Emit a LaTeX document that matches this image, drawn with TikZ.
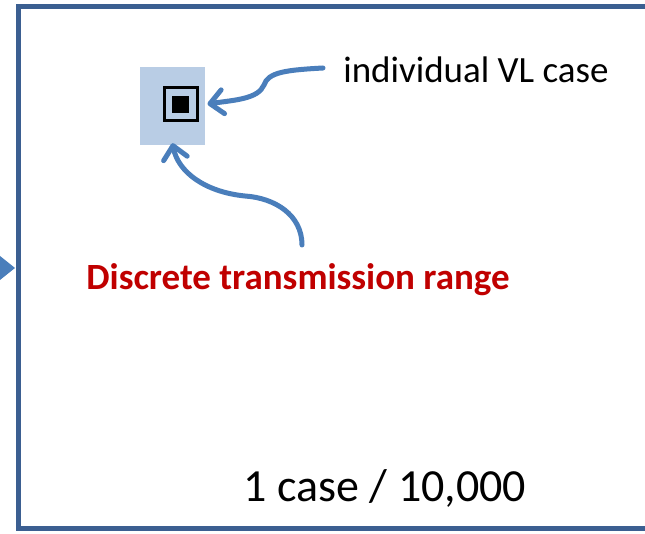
\documentclass[tikz,border=0pt]{standalone}
\usepackage{fontspec}
\setmainfont{Carlito}
\usetikzlibrary{arrows.meta}
\definecolor{frameblue}{HTML}{3B5F91}
\definecolor{arrowblue}{HTML}{4A7EBB}
\definecolor{lightblue}{HTML}{B9CDE5}
\definecolor{darkred}{HTML}{C00000}
\tikzset{
  curvearrow/.style={draw=arrowblue, line width=5pt, line cap=round, -{Straight Barb[length=13pt,width=24pt,line width=5pt,round]}},
  txt/.style={inner sep=0pt, anchor=center}
}
\begin{document}
\begin{tikzpicture}[x=1pt,y=-1pt]
\fill[white] (0,0) rectangle (645,534);
\useasboundingbox (0,0) rectangle (645,534);
% frame
\draw[frameblue, line width=5pt] (646,7) -- (18,7) -- (18,528) -- (646,528);
\fill[arrowblue] (0,256) -- (15,268) -- (0,280) -- cycle;
% light blue square and marker
\node[fill=lightblue, minimum width=65pt, minimum height=78pt, inner sep=0pt] (bluebox) at (172.5,106) {};
\node[draw=black, line width=3pt, fill=lightblue, minimum size=33pt, inner sep=0pt] (marker) at (180.5,104) {};
\node[fill=black, minimum size=17pt, inner sep=0pt] (core) at (180.5,104.5) {};
% texts
\node[txt, font=\fontsize{37}{42}\selectfont] (vl) at (476,70) {individual VL case};
\node[txt, font=\fontsize{37}{42}\selectfont\bfseries, text=darkred] (dtr) at (298,280) {Discrete transmission range};
\node[txt, font=\fontsize{46}{52}\selectfont] (ratio) at (385,488) {1 case / 10,000};
% arrows
\coordinate (a1) at (323,68);
\coordinate (a2) at (302,245);
\draw[curvearrow] (a1) .. controls (287,70) and (268,72) .. (264,85)
  .. controls (258,99) and (235,100) .. ([xshift=9pt]marker.east);
\draw[curvearrow] (a2) .. controls (302,215) and (275,198) .. (245,196)
  .. controls (205,192) and (178,172) .. ([yshift=2pt]bluebox.south);
\end{tikzpicture}
\end{document}
